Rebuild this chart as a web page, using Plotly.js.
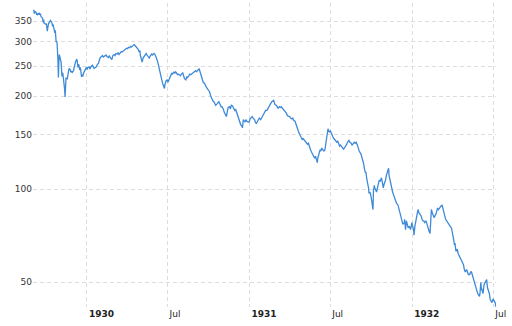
<!DOCTYPE html>
<html><head><meta charset="utf-8">
<script src="https://cdn.plot.ly/plotly-3.0.1.min.js"></script>
<style>html,body{margin:0;padding:0;background:#fff}#chart{width:512px;height:326px}</style>
</head><body><div id="chart"></div>
<script>
var dates = [
"1929-09-03","1929-09-04","1929-09-05","1929-09-06","1929-09-09","1929-09-10","1929-09-11","1929-09-12","1929-09-13","1929-09-16","1929-09-17","1929-09-18","1929-09-19","1929-09-20","1929-09-23","1929-09-24","1929-09-25","1929-09-26","1929-09-27","1929-09-30",
"1929-10-01","1929-10-02","1929-10-03","1929-10-04","1929-10-07","1929-10-08","1929-10-09","1929-10-10","1929-10-11","1929-10-14","1929-10-15","1929-10-16","1929-10-17","1929-10-18","1929-10-19","1929-10-21","1929-10-22","1929-10-23","1929-10-24","1929-10-25","1929-10-26","1929-10-28","1929-10-29","1929-10-30","1929-10-31",
"1929-11-04","1929-11-06","1929-11-07","1929-11-08","1929-11-11","1929-11-12","1929-11-13","1929-11-14","1929-11-15","1929-11-18","1929-11-19","1929-11-20","1929-11-21","1929-11-22","1929-11-25","1929-11-26","1929-11-27","1929-11-29",
"1929-12-02","1929-12-03","1929-12-04","1929-12-05","1929-12-06","1929-12-07","1929-12-09","1929-12-10","1929-12-11","1929-12-12","1929-12-13","1929-12-14","1929-12-16","1929-12-17","1929-12-18","1929-12-19","1929-12-20","1929-12-21","1929-12-23","1929-12-24","1929-12-26","1929-12-27","1929-12-30","1929-12-31",
"1930-01-02","1930-01-03","1930-01-06","1930-01-07","1930-01-08","1930-01-10","1930-01-13","1930-01-14","1930-01-15","1930-01-17","1930-01-20","1930-01-22","1930-01-24","1930-01-27","1930-01-29","1930-01-31",
"1930-02-03","1930-02-05","1930-02-07","1930-02-10","1930-02-13","1930-02-15","1930-02-18","1930-02-20","1930-02-24","1930-02-26","1930-02-28",
"1930-03-03","1930-03-05","1930-03-07","1930-03-10","1930-03-12","1930-03-14","1930-03-17","1930-03-19","1930-03-21","1930-03-24","1930-03-26","1930-03-28","1930-03-31",
"1930-04-02","1930-04-04","1930-04-07","1930-04-09","1930-04-11","1930-04-14","1930-04-17","1930-04-19","1930-04-22","1930-04-24","1930-04-26","1930-04-28","1930-04-30",
"1930-05-01","1930-05-03","1930-05-05","1930-05-07","1930-05-09","1930-05-12","1930-05-14","1930-05-16","1930-05-19","1930-05-21","1930-05-23","1930-05-26","1930-05-28","1930-05-31",
"1930-06-02","1930-06-04","1930-06-06","1930-06-09","1930-06-11","1930-06-13","1930-06-16","1930-06-18","1930-06-20","1930-06-23","1930-06-24","1930-06-25","1930-06-26","1930-06-28","1930-06-30",
"1930-07-02","1930-07-05","1930-07-08","1930-07-10","1930-07-12","1930-07-15","1930-07-17","1930-07-19","1930-07-21","1930-07-23","1930-07-25","1930-07-28","1930-07-30",
"1930-08-01","1930-08-04","1930-08-06","1930-08-08","1930-08-11","1930-08-13","1930-08-15","1930-08-18","1930-08-20","1930-08-22","1930-08-25","1930-08-27","1930-08-29",
"1930-09-02","1930-09-04","1930-09-06","1930-09-08","1930-09-10","1930-09-12","1930-09-13","1930-09-15","1930-09-17","1930-09-19","1930-09-22","1930-09-24","1930-09-26","1930-09-29",
"1930-10-01","1930-10-03","1930-10-06","1930-10-08","1930-10-09","1930-10-11","1930-10-13","1930-10-15","1930-10-17","1930-10-20","1930-10-22","1930-10-24","1930-10-27","1930-10-29","1930-10-31",
"1930-11-03","1930-11-05","1930-11-07","1930-11-10","1930-11-12","1930-11-14","1930-11-17","1930-11-19","1930-11-21","1930-11-24","1930-11-26","1930-11-29",
"1930-12-01","1930-12-03","1930-12-05","1930-12-08","1930-12-10","1930-12-12","1930-12-15","1930-12-16","1930-12-18","1930-12-20","1930-12-22","1930-12-24","1930-12-26","1930-12-29","1930-12-31",
"1931-01-02","1931-01-05","1931-01-07","1931-01-09","1931-01-12","1931-01-14","1931-01-16","1931-01-19","1931-01-21","1931-01-23","1931-01-26","1931-01-28","1931-01-30",
"1931-02-02","1931-02-04","1931-02-06","1931-02-09","1931-02-11","1931-02-13","1931-02-16","1931-02-18","1931-02-20","1931-02-24","1931-02-25","1931-02-27",
"1931-03-02","1931-03-04","1931-03-06","1931-03-09","1931-03-11","1931-03-13","1931-03-16","1931-03-18","1931-03-20","1931-03-23","1931-03-25","1931-03-27","1931-03-30",
"1931-04-01","1931-04-03","1931-04-06","1931-04-08","1931-04-10","1931-04-13","1931-04-15","1931-04-17","1931-04-20","1931-04-22","1931-04-24","1931-04-27","1931-04-29",
"1931-05-01","1931-05-04","1931-05-06","1931-05-08","1931-05-11","1931-05-13","1931-05-15","1931-05-18","1931-05-20","1931-05-22","1931-05-25","1931-05-27","1931-05-29",
"1931-06-01","1931-06-02","1931-06-03","1931-06-05","1931-06-08","1931-06-10","1931-06-12","1931-06-15","1931-06-17","1931-06-19","1931-06-22","1931-06-24","1931-06-26","1931-06-27","1931-06-29",
"1931-07-01","1931-07-03","1931-07-07","1931-07-09","1931-07-11","1931-07-14","1931-07-16","1931-07-18","1931-07-20","1931-07-22","1931-07-24","1931-07-27","1931-07-29","1931-07-31",
"1931-08-03","1931-08-05","1931-08-07","1931-08-10","1931-08-12","1931-08-14","1931-08-17","1931-08-19","1931-08-21","1931-08-24","1931-08-26","1931-08-28","1931-08-31",
"1931-09-02","1931-09-04","1931-09-08","1931-09-10","1931-09-12","1931-09-14","1931-09-16","1931-09-18","1931-09-19","1931-09-21","1931-09-23","1931-09-25","1931-09-26","1931-09-28","1931-09-30",
"1931-10-02","1931-10-05","1931-10-06","1931-10-08","1931-10-09","1931-10-13","1931-10-15","1931-10-17","1931-10-19","1931-10-21","1931-10-23","1931-10-24","1931-10-26","1931-10-28","1931-10-30",
"1931-11-02","1931-11-04","1931-11-06","1931-11-09","1931-11-10","1931-11-12","1931-11-14","1931-11-16","1931-11-18","1931-11-20","1931-11-23","1931-11-25","1931-11-27","1931-11-30",
"1931-12-02","1931-12-04","1931-12-07","1931-12-09","1931-12-11","1931-12-14","1931-12-15","1931-12-17","1931-12-19","1931-12-21","1931-12-23","1931-12-26","1931-12-28","1931-12-30","1931-12-31",
"1932-01-04","1932-01-05","1932-01-07","1932-01-09","1932-01-11","1932-01-13","1932-01-14","1932-01-16","1932-01-19","1932-01-21","1932-01-23","1932-01-25","1932-01-27","1932-01-29",
"1932-02-01","1932-02-03","1932-02-05","1932-02-08","1932-02-10","1932-02-11","1932-02-13","1932-02-15","1932-02-17","1932-02-19","1932-02-23","1932-02-25","1932-02-27","1932-02-29",
"1932-03-02","1932-03-05","1932-03-08","1932-03-10","1932-03-12","1932-03-14","1932-03-16","1932-03-18","1932-03-21","1932-03-23","1932-03-26","1932-03-29","1932-03-31",
"1932-04-02","1932-04-05","1932-04-06","1932-04-08","1932-04-11","1932-04-13","1932-04-15","1932-04-18","1932-04-20","1932-04-22","1932-04-25","1932-04-27","1932-04-29",
"1932-05-02","1932-05-04","1932-05-06","1932-05-09","1932-05-11","1932-05-13","1932-05-16","1932-05-18","1932-05-20","1932-05-23","1932-05-25","1932-05-27","1932-05-31",
"1932-06-01","1932-06-03","1932-06-04","1932-06-06","1932-06-08","1932-06-10","1932-06-13","1932-06-15","1932-06-16","1932-06-18","1932-06-20","1932-06-22","1932-06-24","1932-06-27","1932-06-28","1932-06-30",
"1932-07-01","1932-07-05","1932-07-07","1932-07-08"
];
var closes = [
381,379,370,377,373,367,372,366,368,372,367,369,368,362,359,352,347,354,344,343,
342,344,330,325,345,345,347,352,352,348,341,337,342,333,324,321,327,306,299,301,298,261,230,258,273,
258,232,238,237,220,210,199,217,229,228,236,239,242,246,243,239,241,239,
242,247,251,253,257,260,263,262,254,248,254,252,243,248,243,239,231,235,232,237,240,242,245,248,
244,248,249,246,245,249,252,250,250,246,247,249,253,256,262,267,
269,271,268,270,272,269,267,270,265,263,271,
273,271,275,274,277,273,276,279,278,281,283,285,286,
285,288,287,290,289,292,294,292,289,286,284,279,281,
271,263,258,266,269,272,275,272,268,266,270,274,272,275,
274,271,266,258,249,240,230,226,220,215,212,218,223,225,226,
222,228,234,237,236,240,237,240,238,235,236,234,233,
236,238,233,228,226,231,230,233,236,235,237,239,240,
242,240,243,244,245,240,237,232,230,222,220,216,214,211,
209,207,200,197,195,193,192,190,187,189,190,192,188,185,185,
182,178,175,172,178,184,185,182,187,186,183,180,
181,177,172,168,164,162,160,158,168,167,165,168,166,165,165,
169,171,172,170,168,165,163,166,168,170,168,170,172,
174,176,180,180,183,186,188,190,192,194,191,188,
187,185,183,185,184,185,183,181,180,178,176,173,172,
172,170,169,170,167,166,162,159,155,152,150,148,145,
146,144,143,142,140,141,137,134,132,130,128,126,128,
123,122,126,130,134,133,136,134,133,134,146,150,157,155,153,
155,152,148,146,145,144,142,143,141,138,139,137,136,135,
137,138,140,143,144,142,141,139,140,142,141,142,139,
136,133,130,127,125,121,116,113,114,108,105,101,97,98,96,
92,86,99,103,101,98,101,105,107,106,108,109,105,101,104,
107,111,114,117,111,107,105,101,98,96,93,91,90,89,
87,84,82,80,77,78,80,74,79,77,75,76,74,76,78,
74,71,76,79,82,84,86,84,83,82,80,79,79,78,
79,77,75,73,72,78,86,84,82,81,83,85,87,86,
87,88,89,86,83,82,80,79,78,77,76,75,73,
70,66,67,63,64,62,61,60,59,58,57,55,54,
55,54,53,53,54,54,52,51,49,48,47,46,45,
46,50,48,47,46,49,50,51,51,48,47,46,44,43,43,44,
44,43,42,41
];
var yTickVals = [50, 100, 150, 200, 250, 300, 350];
var yTickText = ["50", "100", "150", "200", "250", "300", "350"];
var xTickVals = ["1930-01-01", "1930-07-01", "1931-01-01", "1931-07-01", "1932-01-01", "1932-07-01"];
var xTickText = ["<b>1930</b>", "Jul", "<b>1931</b>", "Jul", "<b>1932</b>", "Jul"];

var trace = {
  x: dates, y: closes, type: "scatter", mode: "lines",
  line: {color: "#3f8ad8", width: 1.3},
  hoverinfo: "skip"
};
var layout = {
  width: 512, height: 326,
  margin: {l: 33, r: 16, t: 3, b: 19, pad: 0},
  paper_bgcolor: "#ffffff", plot_bgcolor: "#ffffff",
  showlegend: false,
  font: {family: "DejaVu Sans, Verdana, sans-serif", size: 9, color: "#333"},
  xaxis: {
    type: "date", range: ["1929-09-02", "1932-07-07"],
    tickmode: "array", tickvals: xTickVals, ticktext: xTickText,
    ticks: "", showline: false, zeroline: false,
    showgrid: true, gridcolor: "#dddddd", griddash: "4px,3px", gridwidth: 1,
    ticklabelposition: "outside right", ticklabelshift: 2,
    tickfont: {size: 9, color: "#222"}
  },
  yaxis: {
    type: "log", range: [Math.log10(41.6), Math.log10(400.8)],
    tickmode: "array", tickvals: yTickVals, ticktext: yTickText,
    ticks: "", showline: false, zeroline: false,
    showgrid: true, gridcolor: "#dddddd", griddash: "4px,3px", gridwidth: 1,
    tickfont: {size: 9, color: "#333"}
  }
};
Plotly.newPlot("chart", [trace], layout, {displayModeBar: false, staticPlot: true});
</script></body></html>
